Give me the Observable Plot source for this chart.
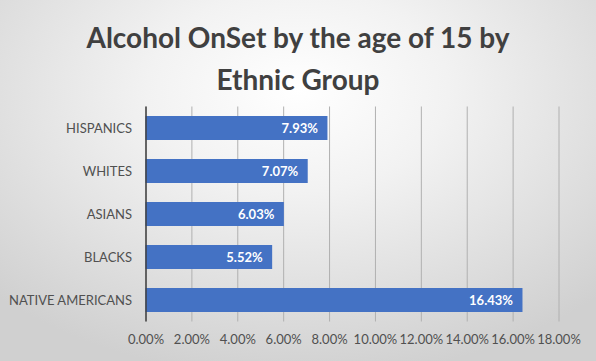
<!DOCTYPE html>
<html>
<head>
<meta charset="utf-8">
<script src="https://cdn.jsdelivr.net/npm/d3@7"></script>
<script src="https://cdn.jsdelivr.net/npm/@observablehq/plot@0.6"></script>
<style>
  html, body { margin: 0; padding: 0; }
  #chart {
    width: 596px; height: 361px; overflow: hidden; position: relative;
    background: radial-gradient(ellipse 72% 80% at 50% 25%, #ffffff 0%, #f2f2f2 35%, #d0d0d0 100%);
    font-family: Lato, "Open Sans", sans-serif;
  }
  #title {
    height: 100px; box-sizing: border-box; padding-top: 16px;
    text-align: center; font-weight: bold; font-size: 28px; line-height: 42px; color: #404040;
  }
  svg { display: block; }
</style>
</head>
<body>
<div id="chart">
  <div id="title">Alcohol OnSet by the age of 15 by<br>Ethnic Group</div>
</div>
<script>
const groups = ["HISPANICS", "WHITES", "ASIANS", "BLACKS", "NATIVE AMERICANS"];
const rates = [0.0793, 0.0707, 0.0603, 0.0552, 0.1643];
const xTicks = [0, 0.02, 0.04, 0.06, 0.08, 0.10, 0.12, 0.14, 0.16, 0.18];

const data = groups.map((g, i) => ({group: g, rate: rates[i]}));
const pct = d3.format(".2%");

const plot = Plot.plot({
  width: 596,
  height: 261,
  marginLeft: 145.5,
  marginRight: 37.5,
  marginTop: 6.5,
  marginBottom: 39.5,
  style: {background: "transparent", fontFamily: "Lato, 'Open Sans', sans-serif", fontSize: "13px", color: "#505050"},
  x: {domain: [0, 0.18], ticks: xTicks, tickFormat: pct, tickSize: 0, tickPadding: 13, label: null},
  y: {domain: groups, paddingInner: 0.44, paddingOuter: 0.22, tickSize: 0, tickPadding: 14, label: null},
  marks: [
    Plot.gridX(xTicks, {stroke: "#b0b0b0", strokeOpacity: 1, strokeWidth: 1}),
    Plot.barX(data, {x: "rate", y: "group", fill: "#4472C4"}),
    Plot.ruleX([0], {stroke: "#404040", strokeWidth: 1.5}),
    Plot.text(data, {x: "rate", y: "group", text: d => pct(d.rate), textAnchor: "end", dx: -10,
      fill: "white", fontWeight: "bold", fontSize: 13})
  ]
});
document.getElementById("chart").appendChild(plot);
</script>
</body>
</html>
